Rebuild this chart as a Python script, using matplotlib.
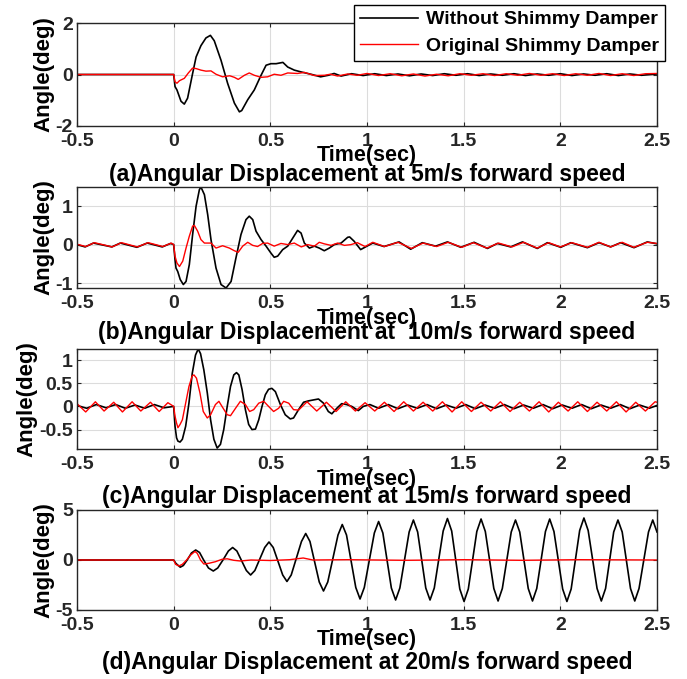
import numpy as np
import matplotlib
matplotlib.use('Agg')
import matplotlib.pyplot as plt

plt.rcParams['font.family'] = ['Liberation Sans', 'DejaVu Sans']
plt.rcParams['font.weight'] = 'bold'

# ---- data (time in sec, angle in deg) ----
# (a) 5 m/s
ta_free = [-0.5, 0.0, 0.007, 0.017, 0.038, 0.055, 0.072, 0.098, 0.116, 0.141, 0.167, 0.19, 0.21,
           0.245, 0.279, 0.314, 0.34, 0.352, 0.383, 0.417, 0.452, 0.478, 0.503, 0.53, 0.565, 0.59,
           0.624, 0.659, 0.71, 0.76, 0.8, 0.83, 0.866, 0.92, 0.98, 1.04, 1.1, 1.16, 1.22, 1.28,
           1.34, 1.4, 1.46, 1.52, 1.58, 1.64, 1.7, 1.76, 1.82, 1.88, 1.94, 2.0, 2.06, 2.12, 2.18,
           2.24, 2.3, 2.36, 2.42, 2.5]
ya_free = [0, 0, -0.47, -0.6, -1.04, -1.15, -0.92, 0.04, 0.68, 1.12, 1.42, 1.52, 1.31,
           0.55, -0.34, -1.11, -1.45, -1.4, -0.98, -0.6, -0.03, 0.36, 0.42, 0.42, 0.47, 0.29,
           0.17, 0.1, 0.01, -0.09, -0.03, 0.04, -0.06, 0.03, -0.04, 0.03, -0.04, 0.02, -0.05, 0.02,
           -0.04, 0.03, -0.03, 0.03, -0.04, 0.02, -0.03, 0.03, -0.04, 0.02, -0.03, 0.03, -0.04, 0.02, -0.03,
           0.03, -0.04, 0.02, -0.03, 0.02]
ta_damp = [-0.5, 0.0, 0.007, 0.017, 0.03, 0.055, 0.076, 0.098, 0.116, 0.141, 0.167, 0.193, 0.219,
           0.253, 0.29, 0.314, 0.334, 0.366, 0.391, 0.417, 0.452, 0.486, 0.52, 0.555, 0.59, 0.64,
           0.676, 0.728, 0.78, 0.81, 0.848, 0.9, 0.95, 1.0, 1.06, 1.12, 1.18, 1.24, 1.3, 1.36, 1.42,
           1.48, 1.54, 1.6, 1.66, 1.72, 1.78, 1.84, 1.9, 1.96, 2.02, 2.08, 2.14, 2.2, 2.26, 2.32,
           2.38, 2.44, 2.5]
ya_damp = [0, 0, -0.28, -0.34, -0.24, -0.15, 0.06, 0.25, 0.23, 0.17, 0.13, 0.14, 0.01,
           -0.09, -0.05, -0.11, -0.19, -0.03, 0.06, -0.03, -0.11, -0.09, 0.01, -0.03, 0.06, 0.04,
           0.08, -0.04, -0.03, 0.01, -0.06, 0.02, -0.03, 0.04, -0.04, 0.03, -0.05, 0.02, -0.06, 0.01, -0.05,
           0.03, -0.03, 0.03, -0.04, 0.03, -0.03, 0.04, -0.03, 0.03, -0.04, 0.03, -0.03, 0.04, -0.04, 0.03,
           -0.04, 0.03, 0.04]

# (b) 10 m/s
tb_free = [-0.5, -0.458, -0.415, -0.32, -0.276, -0.19, -0.137, -0.059, -0.016, 0.0,
           0.007, 0.012, 0.021, 0.034, 0.05, 0.064, 0.081, 0.098, 0.116, 0.133, 0.141, 0.159, 0.176,
           0.193, 0.219, 0.245, 0.271, 0.297, 0.322, 0.348, 0.374, 0.391, 0.409, 0.426, 0.452, 0.478,
           0.503, 0.52, 0.538, 0.564, 0.59, 0.616, 0.641, 0.659, 0.676, 0.702, 0.728, 0.753, 0.779,
           0.805, 0.831, 0.866, 0.9, 0.91, 0.933, 0.967, 1.0, 1.03, 1.088, 1.166, 1.226, 1.286, 1.355,
           1.416, 1.485, 1.554, 1.623, 1.674, 1.743, 1.804, 1.881, 1.933, 2.002, 2.054, 2.14, 2.2,
           2.26, 2.312, 2.381, 2.45, 2.5]
yb_free = [0, -0.06, 0.04, -0.06, 0.04, -0.07, 0.04, -0.06, 0.03, 0.0,
           -0.39, -0.61, -0.7, -0.91, -1.04, -0.96, -0.52, 0.26, 1.0, 1.43, 1.5, 1.3, 0.78,
           0.13, -0.61, -1.04, -1.13, -0.96, -0.35, 0.26, 0.65, 0.74, 0.65, 0.35, 0.13, -0.04,
           -0.22, -0.33, -0.3, -0.13, -0.04, 0.17, 0.37, 0.3, 0.04, -0.09, -0.04, -0.09, -0.16,
           -0.09, 0, 0.04, 0.19, 0.2, 0.09, -0.13, -0.04, 0.04, -0.05, 0.07, -0.12, 0.05, -0.04,
           0.07, -0.07, 0.06, -0.1, 0.03, -0.06, 0.07, -0.1, 0.05, -0.07, 0.05, -0.08, 0.05,
           -0.06, 0.05, -0.08, 0.07, 0.02]
tb_damp = [-0.5, -0.455, -0.41, -0.318, -0.27, -0.188, -0.132, -0.056, -0.012, 0.0,
           0.007, 0.017, 0.03, 0.047, 0.064, 0.081, 0.098, 0.107, 0.124, 0.141, 0.159, 0.193, 0.219,
           0.253, 0.288, 0.314, 0.334, 0.357, 0.383, 0.409, 0.434, 0.46, 0.486, 0.52, 0.555, 0.59,
           0.624, 0.66, 0.693, 0.728, 0.753, 0.779, 0.814, 0.848, 0.883, 0.917, 0.95, 0.99, 1.03,
           1.09, 1.16, 1.23, 1.29, 1.36, 1.42, 1.49, 1.55, 1.62, 1.68, 1.75, 1.81, 1.88, 1.94, 2.0,
           2.06, 2.14, 2.2, 2.26, 2.32, 2.38, 2.45, 2.5]
yb_damp = [0.01, -0.05, 0.05, -0.06, 0.05, -0.06, 0.05, -0.05, 0.04, 0.0,
           -0.3, -0.48, -0.57, -0.43, -0.09, 0.22, 0.48, 0.5, 0.35, 0.13, 0.04, 0.04, -0.09,
           -0.03, -0.09, -0.16, -0.2, -0.04, 0.06, -0.02, -0.05, 0.03, 0.04, -0.04, 0.03, 0,
           0.04, -0.06, 0, -0.04, 0.06, 0.02, -0.02, 0.04, -0.02, 0, 0.05, -0.05, 0.06,
           -0.05, 0.06, -0.1, 0.04, -0.05, 0.06, -0.07, 0.05, -0.09, 0.04, -0.06, 0.06, -0.09, 0.05, -0.06,
           0.05, -0.07, 0.06, -0.06, 0.06, -0.07, 0.06, 0.03]

# (c) 15 m/s
tc_free = [-0.5, -0.45, -0.4, -0.35, -0.3, -0.25, -0.2, -0.15, -0.1, -0.05, 0.0,
           0.007, 0.015, 0.022, 0.033, 0.045, 0.062, 0.079, 0.096, 0.113, 0.127, 0.139, 0.156,
           0.174, 0.191, 0.208, 0.225, 0.242, 0.259, 0.277, 0.294, 0.311, 0.325, 0.337, 0.354,
           0.371, 0.388, 0.405, 0.423, 0.44, 0.457, 0.474, 0.491, 0.508, 0.526, 0.552, 0.577,
           0.603, 0.62, 0.646, 0.672, 0.698, 0.723, 0.749, 0.775, 0.8, 0.818, 0.844, 0.869,
           0.895, 0.921, 0.955, 0.981, 1.015, 1.06, 1.11, 1.16, 1.21, 1.26, 1.31, 1.36, 1.41,
           1.46, 1.51, 1.56, 1.61, 1.66, 1.71, 1.76, 1.81, 1.86, 1.91, 1.96, 2.01, 2.06, 2.11,
           2.16, 2.21, 2.26, 2.31, 2.36, 2.41, 2.46, 2.5]
yc_free = [0.02, -0.04, 0.04, -0.03, 0.04, -0.04, 0.03, -0.04, 0.04, -0.03, 0.0,
           -0.43, -0.68, -0.75, -0.77, -0.71, -0.43, 0.07, 0.71, 1.11, 1.24, 1.14, 0.79,
           0.29, -0.29, -0.71, -0.9, -0.82, -0.5, 0, 0.43, 0.68, 0.73, 0.68, 0.36,
           -0.07, -0.39, -0.5, -0.49, -0.29, 0, 0.25, 0.37, 0.39, 0.32, 0.04, -0.18,
           -0.27, -0.25, -0.07, 0.09, 0.12, 0.14, 0.16, 0.07, -0.11, -0.16, -0.04, 0.06,
           0.04, 0, -0.09, 0, 0.04, -0.04, 0.04, -0.05, 0.03, -0.04, 0.04, -0.05, 0.03,
           -0.04, 0.04, -0.05, 0.03, -0.04, 0.04, -0.05, 0.03, -0.04, 0.04, -0.05, 0.03, -0.04, 0.04,
           -0.05, 0.03, -0.04, 0.04, -0.05, 0.03, -0.04, 0.02]
tc_damp = [-0.5, -0.455, -0.405, -0.36, -0.31, -0.265, -0.215, -0.17, -0.12, -0.075, -0.03, 0.0,
           0.007, 0.015, 0.022, 0.033, 0.045, 0.062, 0.079, 0.096, 0.105, 0.118, 0.136, 0.153,
           0.174, 0.191, 0.216, 0.234, 0.25, 0.277, 0.294, 0.32, 0.345, 0.371, 0.393, 0.414,
           0.44, 0.466, 0.491, 0.517, 0.543, 0.569, 0.595, 0.62, 0.646, 0.69, 0.74, 0.79, 0.84,
           0.89, 0.94, 0.99, 1.04, 1.09, 1.14, 1.19, 1.24, 1.29, 1.34, 1.39, 1.44, 1.49, 1.54,
           1.59, 1.64, 1.69, 1.74, 1.79, 1.84, 1.89, 1.94, 1.99, 2.04, 2.09, 2.14, 2.19, 2.24,
           2.29, 2.34, 2.39, 2.44, 2.49, 2.5]
yc_damp = [0.06, -0.12, 0.1, -0.1, 0.09, -0.12, 0.1, -0.1, 0.09, -0.11, 0.08, 0.0,
           -0.21, -0.36, -0.46, -0.39, -0.29, 0.07, 0.43, 0.66, 0.68, 0.61, 0.29, -0.11,
           -0.25, -0.18, 0.04, 0.11, 0, -0.18, -0.2, -0.04, 0.11, 0.04, -0.11, -0.07,
           0.07, 0.11, 0, -0.11, -0.04, 0.11, 0.07, -0.07, -0.08, 0.1, -0.1, 0.09, -0.11,
           0.1, -0.1, 0.08, -0.1, 0.09, -0.11, 0.1, -0.1, 0.09, -0.1, 0.1, -0.12, 0.1, -0.11,
           0.09, -0.1, 0.1, -0.11, 0.09, -0.1, 0.1, -0.12, 0.09, -0.1, 0.1, -0.11, 0.09, -0.1,
           0.1, -0.12, 0.09, -0.1, 0.1, 0.09]

# (d) 20 m/s
td_free = [-0.5, 0.0, 0.012, 0.034, 0.05, 0.07, 0.092, 0.114, 0.134, 0.155, 0.18, 0.205, 0.228,
           0.255, 0.283, 0.305, 0.327, 0.376, 0.398, 0.42, 0.471, 0.493, 0.515, 0.564, 0.586,
           0.608, 0.661, 0.683, 0.705, 0.753, 0.775, 0.797, 0.85, 0.872, 0.894, 0.942, 0.964,
           0.986, 1.038, 1.06, 1.082, 1.126, 1.148, 1.17, 1.218, 1.24, 1.262, 1.304, 1.326, 1.348,
           1.394, 1.416, 1.438, 1.48, 1.502, 1.524, 1.568, 1.59, 1.612, 1.656, 1.678, 1.7, 1.746,
           1.768, 1.79, 1.834, 1.856, 1.878, 1.923, 1.945, 1.967, 2.012, 2.034, 2.056, 2.1, 2.122,
           2.144, 2.19, 2.212, 2.234, 2.276, 2.298, 2.32, 2.363, 2.385, 2.407, 2.456, 2.478, 2.5]
yd_free = [0, 0, -0.35, -0.72, -0.55, 0, 0.7, 1.0, 0.75, 0, -0.8, -1.1, -0.8,
           0, 0.9, 1.25, 0.9, -1.05, -1.5, -1.05, 1.25, 1.8, 1.25, -1.5, -2.15,
           -1.5, 1.85, 2.65, 1.85, -2.2, -3.1, -2.2, 2.5, 3.55, 2.5, -2.75, -3.9,
           -2.75, 2.7, 3.85, 2.7, -2.8, -4.0, -2.8, 2.8, 4.0, 2.8, -2.8, -4.0, -2.8,
           2.9, 4.15, 2.9, -2.9, -4.15, -2.9, 2.85, 4.1, 2.85, -2.85, -4.1, -2.85, 2.8,
           4.0, 2.8, -2.85, -4.1, -2.85, 2.85, 4.1, 2.85, -2.9, -4.15, -2.9, 2.95, 4.2,
           2.95, -2.85, -4.1, -2.85, 2.8, 4.0, 2.8, -2.85, -4.1, -2.85, 2.8, 4.0, 2.8]
td_damp = [-0.5, 0.0, 0.01, 0.027, 0.045, 0.067, 0.088, 0.11, 0.122, 0.139, 0.156, 0.182, 0.216,
           0.25, 0.277, 0.311, 0.345, 0.4, 0.5, 0.6, 0.67, 0.72, 0.9, 1.2, 1.5, 1.8, 2.1, 2.5]
yd_damp = [0, 0, -0.43, -0.6, -0.43, 0, 0.5, 0.85, 0.67, 0, -0.4, -0.33, -0.17,
           0.07, 0.12, -0.03, -0.1, 0, -0.05, 0.03, 0.2, 0, 0.03, -0.03, 0.03, -0.03, 0.03, 0]

panels = [
    (ta_free, ya_free, ta_damp, ya_damp, (-2, 2), [-2, 0, 2], ['-2', '0', '2'],
     '(a)Angular Displacement at 5m/s forward speed'),
    (tb_free, yb_free, tb_damp, yb_damp, (-1.13, 1.5), [-1, 0, 1], ['-1', '0', '1'],
     '(b)Angular Displacement at  10m/s forward speed'),
    (tc_free, yc_free, tc_damp, yc_damp, (-0.92, 1.24), [-0.5, 0, 0.5, 1], ['-0.5', '0', '0.5', '1'],
     '(c)Angular Displacement at 15m/s forward speed'),
    (td_free, yd_free, td_damp, yd_damp, (-5, 5), [-5, 0, 5], ['-5', '0', '5'],
     '(d)Angular Displacement at 20m/s forward speed'),
]

W, H = 687, 679
fig = plt.figure(figsize=(W / 100, H / 100), dpi=100)

# axes boxes in pixels (top, bottom) and caption offsets
boxes = [(23, 126), (187, 288), (349, 449), (510, 610)]
cap_off = [48, 45, 48, 53]
left, right = 77, 657

xt = [-0.5, 0, 0.5, 1, 1.5, 2, 2.5]
xtl = ['-0.5', '0', '0.5', '1', '1.5', '2', '2.5']

for i, (tf, yf, td, yd, ylim, yt, ytl, cap) in enumerate(panels):
    top, bot = boxes[i]
    ax = fig.add_axes([left / W, 1 - bot / H, (right - left) / W, (bot - top) / H])
    l1, = ax.plot(tf, yf, color='k', lw=1.2)
    l2, = ax.plot(td, yd, color='r', lw=1.0)
    ax.set_xlim(-0.5, 2.5)
    ax.set_ylim(*ylim)
    ax.set_xticks(xt)
    ax.set_xticklabels(xtl)
    ax.set_yticks(yt)
    ax.set_yticklabels(ytl)
    ax.grid(True, color='#dcdcdc', lw=0.8)
    ax.set_axisbelow(True)
    ax.tick_params(direction='in', top=True, right=True, labelsize=14, length=3, pad=3,
                   colors='#262626', labelcolor='#262626')
    ax.tick_params(axis='x', pad=5)
    for s in ax.spines.values():
        s.set_linewidth(1.0)
        s.set_color('#262626')
    ax.set_ylabel('Angle(deg)', fontsize=16, fontweight='bold', labelpad=1)
    ax.set_xlabel('Time(sec)', fontsize=15.5, fontweight='bold')
    ax.xaxis.set_label_coords(0.5, -30.0 / (bot - top))
    ax.xaxis.label.set_verticalalignment('center')
    fig.text(0.5 * (left + right) / W, 1 - (bot + cap_off[i]) / H, cap,
             ha='center', va='center', fontsize=16.5, fontweight='bold')
    if i == 0:
        fig.legend([l1, l2], ['Without Shimmy Damper', 'Original Shimmy Damper'],
                   loc='upper right', bbox_to_anchor=(665 / W, 1 - 5 / H),
                   fontsize=14, frameon=True, fancybox=False, edgecolor='k',
                   framealpha=1, handlelength=3.0, borderaxespad=0, borderpad=0.3,
                   labelspacing=0.45, handletextpad=0.4)

fig.savefig('out.png', dpi=100)
